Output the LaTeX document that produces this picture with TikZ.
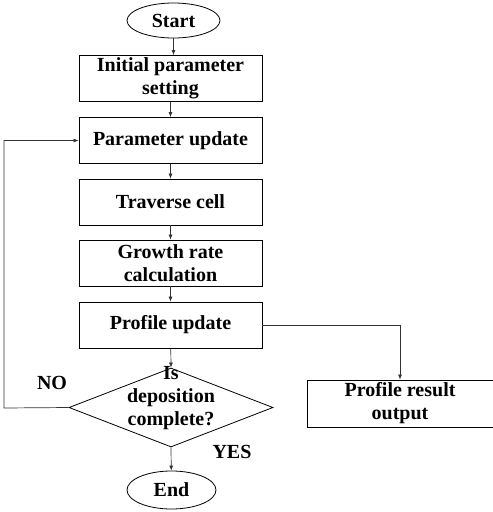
\documentclass[tikz,border=0pt]{standalone}
\usepackage{fontspec}
\setmainfont{Liberation Serif}
\usetikzlibrary{arrows.meta,shapes.geometric}
\begin{document}
\begin{tikzpicture}[x=1pt,y=-1pt,
  txt/.style={font=\fontsize{20}{23}\selectfont\bfseries, align=center, inner sep=0pt},
  procbox/.style={draw, thick, minimum width=183pt, minimum height=46pt, inner sep=0pt, txt},
  term/.style={draw, thick, ellipse, inner sep=0pt, txt},
  conn/.style={draw=black!80, line width=0.7pt, -{Latex[length=5pt,width=4pt]}},
  lbl/.style={txt}
]
\useasboundingbox (0,0) rectangle (493,512);
\node[term, minimum width=93pt, minimum height=35pt] (start) at (173.5,20.5) {Start};
\node[procbox] (init) at (170.5,78.5) {Initial parameter\\setting};
\node[procbox] (pupd) at (170.5,140.5) {Parameter update};
\node[procbox] (trav) at (170.5,202) {Traverse cell};
\node[procbox] (grow) at (170.5,263) {Growth rate\\calculation};
\node[procbox] (prof) at (170.5,325) {Profile update};
\node[draw, thick, diamond, minimum width=204pt, minimum height=79pt, inner sep=0pt, shape aspect=2.58] (dec) at (171,407.5) {};
\node[txt] (dtext) at (171,398) {Is\\deposition\\complete?};
\node[term, minimum width=89pt, minimum height=38pt] (end) at (171.5,490) {End};
\node[procbox, minimum width=186pt, minimum height=47pt] (res) at (400,403.5) {Profile result\\output};
\coordinate (c1) at (4,408);
\coordinate (c2) at (4,140.5);
\coordinate (c3) at (400,325);
\draw[conn] (start) -- (init.north -| start);
\draw[conn] (init) -- (pupd);
\draw[conn] (pupd) -- (trav);
\draw[conn] (trav) -- (grow);
\draw[conn] (grow) -- (prof);
\draw[conn] (prof) -- (dec.north);
\draw[conn] (dec.south) -- (end);
\draw[conn] (dec.west) -- (c1) -- (c2) -- (pupd.west);
\draw[conn] (prof.east) -- (c3) -- (res.north);
\node[lbl] (no) at (52,383) {NO};
\node[lbl] (yes) at (232,452) {YES};
\end{tikzpicture}
\end{document}
